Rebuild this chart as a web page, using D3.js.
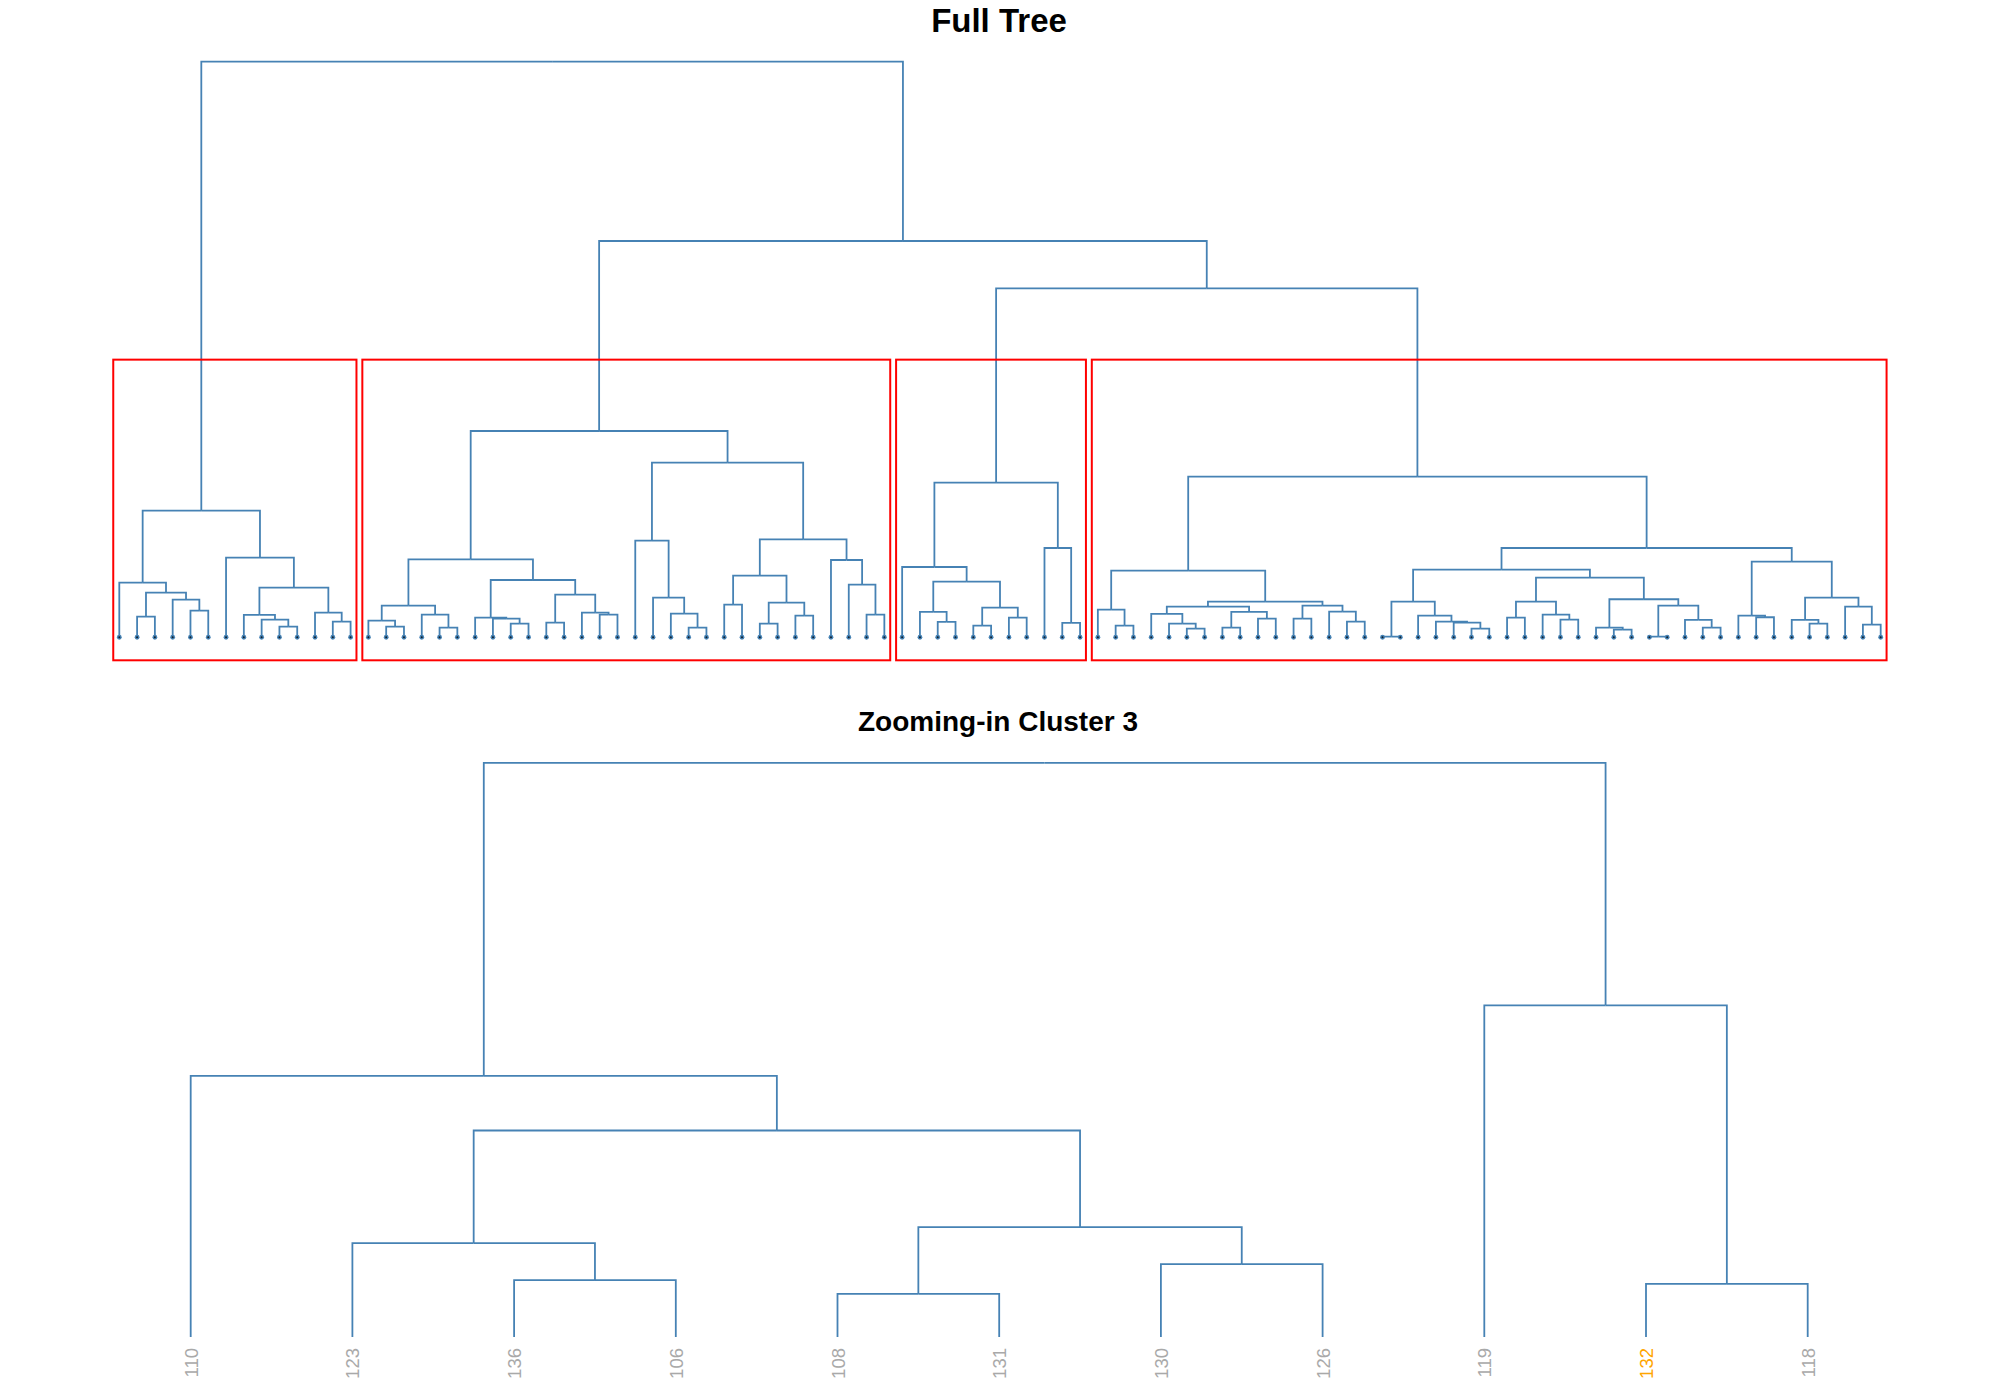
<!DOCTYPE html>
<html><head><meta charset="utf-8">
<script src="https://cdn.jsdelivr.net/npm/d3@7"></script>
<style>body{margin:0;background:#fff} svg{display:block}</style>
</head><body>
<script>
// ---- data: nested merges [height, left, right]; a leaf is a label string ----
const cluster1 = [1.266,
  [0.546, "a", [0.446, [0.206, "a", "a"], [0.376, "a", [0.266, "a", "a"]]]],
  [0.796, "a", [0.496, [0.223, "a", [0.176, "a", [0.106, "a", "a"]]], [0.246, "a", [0.156, "a", "a"]]]]
];
const cluster2 = [2.063,
  [0.780,
    [0.316, [0.166, "b", [0.106, "b", "b"]], [0.226, "b", [0.096, "b", "b"]]],
    [0.573,
      [0.196, "b", [0.186, "b", [0.136, "b", "b"]]],
      [0.426, [0.146, "b", "b"], [0.246, "b", [0.226, "b", "b"]]]
    ]
  ],
  [1.746,
    [0.966, "b", [0.396, "b", [0.236, "b", [0.096, "b", "b"]]]],
    [0.980,
      [0.616, [0.326, "b", "b"], [0.346, [0.136, "b", "b"], [0.216, "b", "b"]]],
      [0.773, "b", [0.526, "b", [0.226, "b", "b"]]]
    ]
  ]
];
const cluster3 = [1.546,
  [0.703, "110", [0.556, [0.253, "123", [0.153, "136", "106"]], [0.296, [0.116, "108", "131"], [0.196, "130", "126"]]]],
  [0.893, "119", [0.143, "132", "118"]]
];
const cluster4 = [1.606,
  [0.666,
    [0.276, "d", [0.116, "d", "d"]],
    [0.356,
      [0.306,
        [0.233, "d", [0.136, "d", [0.086, "d", "d"]]],
        [0.253, [0.096, "d", "d"], [0.186, "d", "d"]]
      ],
      [0.316, [0.186, "d", "d"], [0.256, "d", [0.156, "d", "d"]]]
    ]
  ],
  [0.893,
    [0.676,
      [0.356, [0.006, "d", "d"], [0.216, "d", [0.156, "d", [0.146, "d", [0.086, "d", "d"]]]]],
      [0.596,
        [0.356, [0.196, "d", "d"], [0.226, "d", [0.176, "d", "d"]]],
        [0.380,
          [0.096, "d", [0.076, "d", "d"]],
          [0.316, [0.006, "d", "d"], [0.173, "d", [0.096, "d", "d"]]]
        ]
      ]
    ],
    [0.756,
      [0.216, "d", [0.200, "d", "d"]],
      [0.396, [0.173, "d", [0.136, "d", "d"]], [0.306, "d", [0.126, "d", "d"]]]
    ]
  ]
];
const upperMergeHeights = [5.758, 3.963, 3.490];
const fullTree = [upperMergeHeights[0], cluster1, [upperMergeHeights[1], cluster2, [upperMergeHeights[2], cluster3, cluster4]]];
const kClusters = 4;
const highlightLabel = "132";
const titles = ["Full Tree", "Zooming-in Cluster 3"];

// ---- drawing ----
const W = 2000, H = 1400;
const LINE = "#4682B4";
const svg = d3.select("body").append("svg").attr("width", W).attr("height", H)
  .style("font-family", "'Liberation Sans', Arial, sans-serif");

function toObj(n) {
  if (typeof n === "string") return { label: n };
  return { height: n[0], children: [toObj(n[1]), toObj(n[2])] };
}
function layout(root, x, y) {
  root.leaves().forEach((d, i) => { d.idx = i + 1; d.px = x(i + 1); d.py = y(0); });
  root.eachAfter(d => {
    if (d.children) {
      d.px = (d.children[0].px + d.children[1].px) / 2;
      d.py = y(d.data.height);
    }
  });
}
function drawEdges(g, root, sw) {
  g.selectAll("path.edge").data(root.descendants().filter(d => d.parent))
    .join("path").attr("class", "edge")
    .attr("d", d => `M${d.parent.px},${d.parent.py}H${d.px}V${d.py}`)
    .attr("fill", "none").attr("stroke", LINE).attr("stroke-width", sw)
    .attr("stroke-linecap", "butt");
}

// Full tree
const full = d3.hierarchy(toObj(fullTree));
const nLeaves = full.leaves().length;
const rootH = full.data.height;
const xFull = d3.scaleLinear().domain([1, nLeaves]).range([119.3, 1880.7]);
const yFull = d3.scaleLinear().domain([-0.04 * rootH, 1.04 * rootH]).range([660.3, 38.5]);
layout(full, xFull, yFull);

svg.append("text").attr("x", 999).attr("y", 32).attr("text-anchor", "middle")
  .attr("font-size", 33).attr("font-weight", "bold").text(titles[0]);

const gFull = svg.append("g");
drawEdges(gFull, full, 1.8);
gFull.selectAll("circle.pt").data(full.leaves()).join("circle").attr("class", "pt")
  .attr("cx", d => d.px).attr("cy", d => d.py).attr("r", 2.4).attr("fill", LINE);
gFull.selectAll("circle.pc").data(full.leaves()).join("circle").attr("class", "pc")
  .attr("cx", d => d.px).attr("cy", d => d.py).attr("r", 1).attr("fill", "#10202e");

// cut into k clusters
const hs = full.descendants().filter(d => d.children).map(d => d.data.height).sort((a, b) => b - a);
const cutH = (hs[kClusters - 2] + hs[kClusters - 1]) / 2;
const clusters = full.descendants().filter(d => (d.children ? d.data.height < cutH : true) && d.parent && d.parent.data.height >= cutH)
  .sort((a, b) => a.leaves()[0].idx - b.leaves()[0].idx);
gFull.selectAll("rect.box").data(clusters).join("rect").attr("class", "box")
  .attr("x", d => xFull(d.leaves()[0].idx - 0.34))
  .attr("y", yFull(cutH))
  .attr("width", d => xFull(d.leaves()[d.leaves().length - 1].idx + 0.33) - xFull(d.leaves()[0].idx - 0.34))
  .attr("height", yFull(-0.04 * rootH) - yFull(cutH))
  .attr("fill", "none").attr("stroke", "#FF0000").attr("stroke-width", 2);

// Zoomed cluster
svg.append("text").attr("x", 998).attr("y", 731).attr("text-anchor", "middle")
  .attr("font-size", 28).attr("font-weight", "bold").text(titles[1]);
const sub = d3.hierarchy(toObj(cluster3));
const nSub = sub.leaves().length;
const xSub = d3.scaleLinear().domain([1, nSub]).range([190.7, 1807.7]);
const ySub = d3.scaleLinear().domain([0, sub.data.height]).range([1337, 762.8]);
layout(sub, xSub, ySub);
const gSub = svg.append("g");
drawEdges(gSub, sub, 1.8);
gSub.selectAll("text.lab").data(sub.leaves()).join("text").attr("class", "lab")
  .attr("transform", d => `translate(${d.px},1348) rotate(-90)`)
  .attr("text-anchor", "end").attr("dy", "0.38em")
  .attr("font-size", 18.5)
  .attr("fill", d => d.data.label === highlightLabel ? "#FFA500" : "#A9A9A9")
  .text(d => d.data.label);
</script>
</body></html>
